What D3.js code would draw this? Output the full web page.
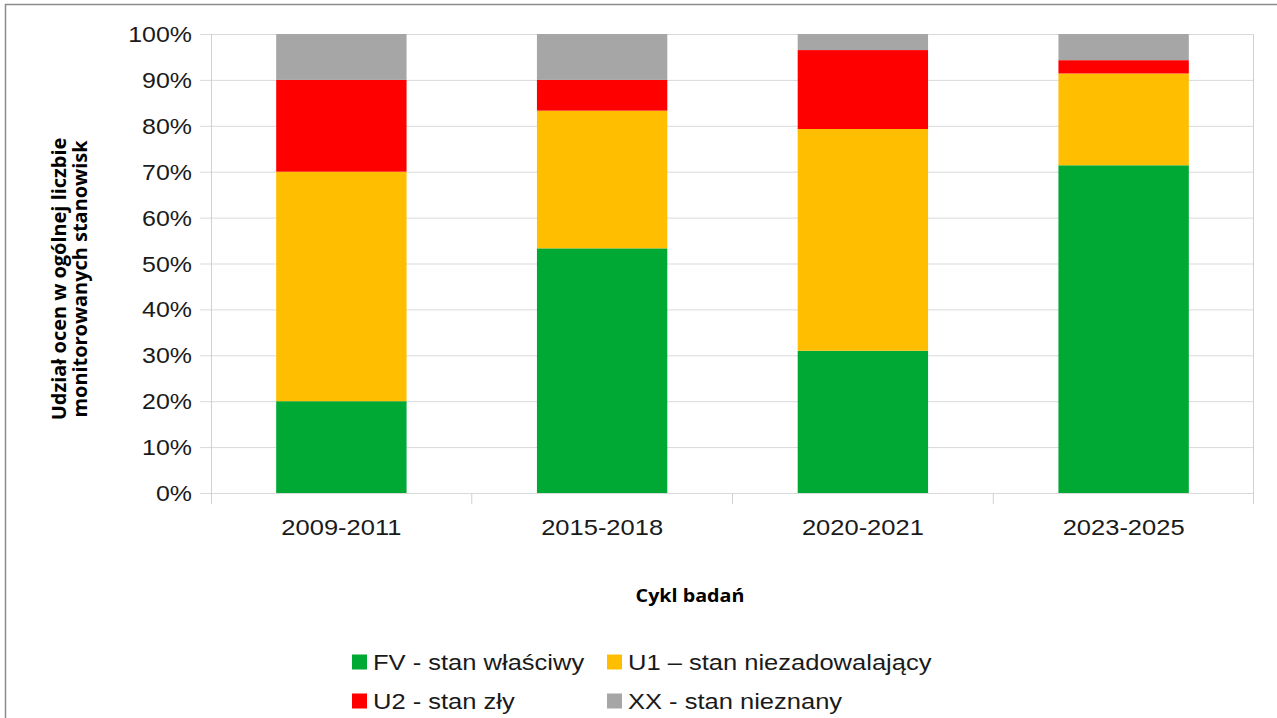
<!DOCTYPE html>
<html><head><meta charset="utf-8">
<script src="https://cdn.jsdelivr.net/npm/d3@7"></script>
<style>
html,body{margin:0;padding:0;background:#fff;}
svg{display:block;}
</style></head>
<body>
<svg id="chart" width="1277" height="718"></svg>
<script>
const categories = ["2009-2011", "2015-2018", "2020-2021", "2023-2025"];
const seriesNames = ["FV - stan właściwy", "U1 – stan niezadowalający", "U2 - stan zły", "XX - stan nieznany"];
const FV = [20.0, 53.3, 31.0, 71.4];
const U1 = [50.0, 30.0, 48.3, 20.0];
const U2 = [20.0, 6.7, 17.2, 2.9];
const XX = [10.0, 10.0, 3.5, 5.7];
const yTicks = [0, 10, 20, 30, 40, 50, 60, 70, 80, 90, 100];
const colors = ["#00a933", "#ffbf00", "#ff0000", "#a6a6a6"];
const yTitle = ["Udział ocen w ogólnej liczbie", "monitorowanych stanowisk"];
const xTitle = "Cykl badań";

const SX = 1.16;
const svg = d3.select("#chart");
const L = 211, R = 1254, T = 34, B = 493;

// frame
svg.append("path").attr("d", `M5.5,718 V4.5 H1277`).attr("fill", "none").attr("stroke", "#8c8c8c").attr("stroke-width", 1.5);

const x = d3.scaleBand().domain(categories).range([L, R]).paddingInner(0.5).paddingOuter(0.25);
const y = d3.scaleLinear().domain([0, 100]).range([B, T]);

// grid
svg.append("g").selectAll("line").data(yTicks).join("line")
  .attr("x1", L).attr("x2", R).attr("y1", d => y(d) + 0.5).attr("y2", d => y(d) + 0.5)
  .attr("stroke", "#d9d9d9").attr("stroke-width", 1);

// stacked data
const rows = categories.map((c, i) => ({cat: c, FV: FV[i], U1: U1[i], U2: U2[i], XX: XX[i]}));
const stack = d3.stack().keys(["FV", "U1", "U2", "XX"])(rows);
svg.append("g").selectAll("g").data(stack).join("g")
  .attr("fill", (d, i) => colors[i])
  .selectAll("rect").data(d => d).join("rect")
  .attr("x", d => x(d.data.cat)).attr("width", x.bandwidth())
  .attr("y", d => y(d[1])).attr("height", d => y(d[0]) - y(d[1]));

// y axis
const yAxis = svg.append("g").attr("transform", `translate(${L},0)`)
  .call(d3.axisLeft(y).tickValues(yTicks).tickFormat(d => d + "%").tickSize(11));
yAxis.select(".domain").remove();
yAxis.selectAll(".tick line").attr("stroke", "#d9d9d9");
yAxis.selectAll(".tick text").attr("x", null).attr("dy", "0.35em")
  .attr("transform", `translate(-19,0) scale(${SX},1)`)
  .attr("text-anchor", "end").attr("fill", "#1a1a1a")
  .style("font-family", "'Liberation Sans', Arial, sans-serif").style("font-size", "21.5px");

// axis lines
svg.append("line").attr("x1", L + 0.5).attr("x2", L + 0.5).attr("y1", T).attr("y2", B + 11).attr("stroke", "#d0d0d0");
svg.append("line").attr("x1", R - 0.5).attr("x2", R - 0.5).attr("y1", T).attr("y2", B + 11).attr("stroke", "#d0d0d0");
const step = x.step();
const bounds = categories.slice(1).map(c => x(c) - step * 0.25);
svg.append("g").selectAll("line").data(bounds).join("line")
  .attr("x1", d => d).attr("x2", d => d).attr("y1", B).attr("y2", B + 11).attr("stroke", "#d0d0d0");

// x axis labels
const xAxis = svg.append("g").attr("transform", `translate(0,${B})`)
  .call(d3.axisBottom(x).tickSize(0));
xAxis.select(".domain").remove();
xAxis.selectAll(".tick text").attr("y", null).attr("dy", "0.35em")
  .attr("transform", `translate(0,34) scale(${SX},1)`)
  .attr("fill", "#1a1a1a")
  .style("font-family", "'Liberation Sans', Arial, sans-serif").style("font-size", "22px");

// y title
const yt = svg.append("g").attr("transform", `translate(70,279) rotate(-90) scale(1.05,1)`);
yt.selectAll("text").data(yTitle).join("text")
  .attr("x", 0).attr("y", (d, i) => (i - 0.5) * 21.5).attr("dy", "0.35em")
  .attr("text-anchor", "middle").attr("fill", "#000")
  .style("font-family", "'Open Sans', sans-serif").style("font-weight", "bold").style("font-size", "19px")
  .text(d => d);

// x title
svg.append("text").attr("transform", `translate(690,596) scale(${SX},1)`)
  .attr("dy", "0.35em").attr("text-anchor", "middle").attr("fill", "#000")
  .style("font-family", "'Open Sans', sans-serif").style("font-weight", "bold").style("font-size", "17px")
  .text(xTitle);

// legend
const legPos = [[352, 662], [607, 662], [352, 701], [607, 701]];
const leg = svg.append("g").selectAll("g").data(seriesNames).join("g")
  .attr("transform", (d, i) => `translate(${legPos[i][0]},${legPos[i][1]})`);
leg.append("rect").attr("x", 0).attr("y", -7.5).attr("width", 15).attr("height", 15).attr("fill", (d, i) => colors[i]);
leg.append("text").attr("transform", `translate(21,0) scale(${SX},1)`).attr("dy", "0.35em")
  .attr("fill", "#1a1a1a")
  .style("font-family", "'Liberation Sans', Arial, sans-serif").style("font-size", "22px")
  .text(d => d);
</script>
</body></html>
